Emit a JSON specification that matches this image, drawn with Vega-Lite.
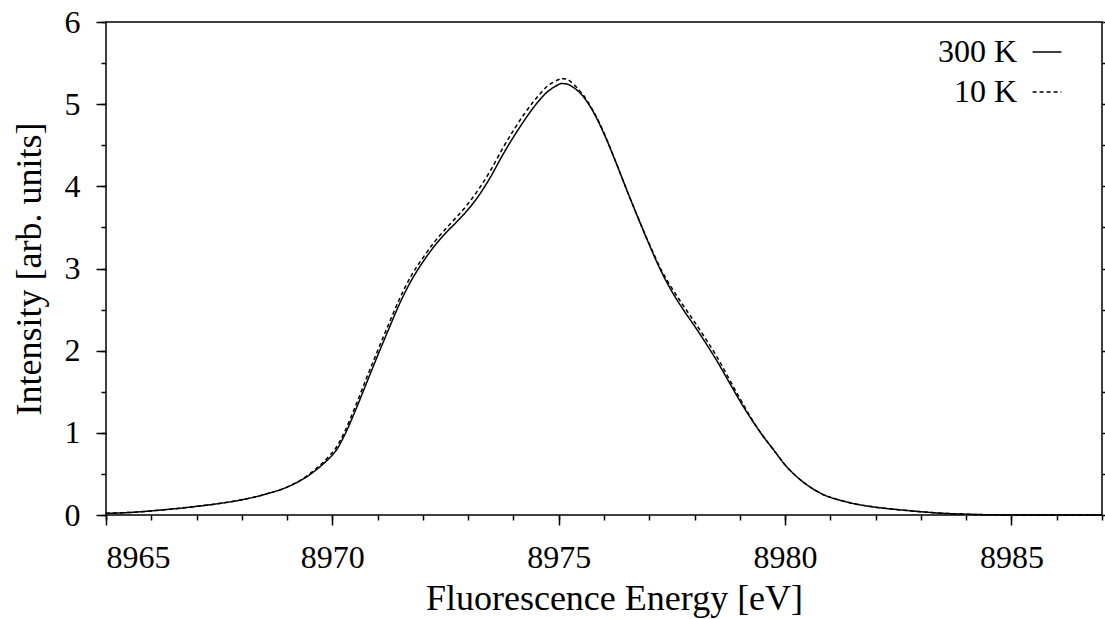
{
  "$schema": "https://vega.github.io/schema/vega-lite/v6.json",
  "width": 996,
  "height": 493,
  "autosize": {"type": "none"},
  "padding": {"left": 106, "top": 22, "right": 3, "bottom": 104},
  "background": "white",
  "config": {
    "view": {"stroke": "black", "strokeWidth": 1.5},
    "font": "Liberation Serif",
    "axis": {"labelFont": "Liberation Serif", "titleFont": "Liberation Serif", "labelFontSize": 32, "titleFontSize": 36, "titleFontWeight": "normal", "labelColor": "black", "titleColor": "black", "tickColor": "black", "tickWidth": 1.5, "domain": false, "grid": false},
    "legend": {"labelFont": "Liberation Serif"}
  },
  "datasets": {
    "spec": [
      {"E": 8965.0, "I": 0.02, "T": "300 K"}, {"E": 8965.5, "I": 0.03, "T": "300 K"}, {"E": 8966.0, "I": 0.05, "T": "300 K"}, {"E": 8966.5, "I": 0.075, "T": "300 K"}, {"E": 8967.0, "I": 0.105, "T": "300 K"}, {"E": 8967.5, "I": 0.14, "T": "300 K"}, {"E": 8968.0, "I": 0.185, "T": "300 K"}, {"E": 8968.5, "I": 0.25, "T": "300 K"}, {"E": 8969.0, "I": 0.34, "T": "300 K"}, {"E": 8969.5, "I": 0.49, "T": "300 K"}, {"E": 8970.0, "I": 0.73, "T": "300 K"}, {"E": 8970.25, "I": 0.95, "T": "300 K"}, {"E": 8970.5, "I": 1.26, "T": "300 K"}, {"E": 8970.75, "I": 1.60, "T": "300 K"}, {"E": 8971.0, "I": 1.94, "T": "300 K"}, {"E": 8971.25, "I": 2.27, "T": "300 K"}, {"E": 8971.5, "I": 2.59, "T": "300 K"}, {"E": 8971.75, "I": 2.86, "T": "300 K"}, {"E": 8972.0, "I": 3.08, "T": "300 K"}, {"E": 8972.25, "I": 3.27, "T": "300 K"}, {"E": 8972.5, "I": 3.43, "T": "300 K"}, {"E": 8972.75, "I": 3.57, "T": "300 K"}, {"E": 8973.0, "I": 3.72, "T": "300 K"}, {"E": 8973.25, "I": 3.90, "T": "300 K"}, {"E": 8973.5, "I": 4.12, "T": "300 K"}, {"E": 8973.75, "I": 4.37, "T": "300 K"}, {"E": 8974.0, "I": 4.60, "T": "300 K"}, {"E": 8974.25, "I": 4.81, "T": "300 K"}, {"E": 8974.5, "I": 5.00, "T": "300 K"}, {"E": 8974.75, "I": 5.15, "T": "300 K"}, {"E": 8975.0, "I": 5.24, "T": "300 K"}, {"E": 8975.1, "I": 5.25, "T": "300 K"}, {"E": 8975.25, "I": 5.23, "T": "300 K"}, {"E": 8975.5, "I": 5.12, "T": "300 K"}, {"E": 8975.75, "I": 4.92, "T": "300 K"}, {"E": 8976.0, "I": 4.64, "T": "300 K"}, {"E": 8976.25, "I": 4.31, "T": "300 K"}, {"E": 8976.5, "I": 3.96, "T": "300 K"}, {"E": 8976.75, "I": 3.62, "T": "300 K"}, {"E": 8977.0, "I": 3.29, "T": "300 K"}, {"E": 8977.25, "I": 2.98, "T": "300 K"}, {"E": 8977.5, "I": 2.72, "T": "300 K"}, {"E": 8977.75, "I": 2.50, "T": "300 K"}, {"E": 8978.0, "I": 2.30, "T": "300 K"}, {"E": 8978.25, "I": 2.09, "T": "300 K"}, {"E": 8978.5, "I": 1.87, "T": "300 K"}, {"E": 8978.75, "I": 1.63, "T": "300 K"}, {"E": 8979.0, "I": 1.39, "T": "300 K"}, {"E": 8979.25, "I": 1.17, "T": "300 K"}, {"E": 8979.5, "I": 0.97, "T": "300 K"}, {"E": 8979.75, "I": 0.79, "T": "300 K"}, {"E": 8980.0, "I": 0.61, "T": "300 K"}, {"E": 8980.25, "I": 0.47, "T": "300 K"}, {"E": 8980.5, "I": 0.36, "T": "300 K"}, {"E": 8980.75, "I": 0.275, "T": "300 K"}, {"E": 8981.0, "I": 0.215, "T": "300 K"}, {"E": 8981.5, "I": 0.14, "T": "300 K"}, {"E": 8982.0, "I": 0.095, "T": "300 K"}, {"E": 8982.5, "I": 0.065, "T": "300 K"}, {"E": 8983.0, "I": 0.04, "T": "300 K"}, {"E": 8983.5, "I": 0.02, "T": "300 K"}, {"E": 8984.0, "I": 0.01, "T": "300 K"}, {"E": 8984.5, "I": 0.003, "T": "300 K"}, {"E": 8985.0, "I": 0.0, "T": "300 K"}, {"E": 8986.0, "I": 0.0, "T": "300 K"}, {"E": 8987.0, "I": 0.0, "T": "300 K"},
      {"E": 8965.0, "I": 0.02, "T": "10 K"}, {"E": 8965.5, "I": 0.03, "T": "10 K"}, {"E": 8966.0, "I": 0.05, "T": "10 K"}, {"E": 8966.5, "I": 0.075, "T": "10 K"}, {"E": 8967.0, "I": 0.105, "T": "10 K"}, {"E": 8967.5, "I": 0.14, "T": "10 K"}, {"E": 8968.0, "I": 0.185, "T": "10 K"}, {"E": 8968.5, "I": 0.25, "T": "10 K"}, {"E": 8969.0, "I": 0.34, "T": "10 K"}, {"E": 8969.5, "I": 0.50, "T": "10 K"}, {"E": 8970.0, "I": 0.76, "T": "10 K"}, {"E": 8970.25, "I": 0.99, "T": "10 K"}, {"E": 8970.5, "I": 1.31, "T": "10 K"}, {"E": 8970.75, "I": 1.66, "T": "10 K"}, {"E": 8971.0, "I": 2.00, "T": "10 K"}, {"E": 8971.25, "I": 2.33, "T": "10 K"}, {"E": 8971.5, "I": 2.65, "T": "10 K"}, {"E": 8971.75, "I": 2.92, "T": "10 K"}, {"E": 8972.0, "I": 3.13, "T": "10 K"}, {"E": 8972.25, "I": 3.32, "T": "10 K"}, {"E": 8972.5, "I": 3.48, "T": "10 K"}, {"E": 8972.75, "I": 3.63, "T": "10 K"}, {"E": 8973.0, "I": 3.79, "T": "10 K"}, {"E": 8973.25, "I": 3.98, "T": "10 K"}, {"E": 8973.5, "I": 4.20, "T": "10 K"}, {"E": 8973.75, "I": 4.45, "T": "10 K"}, {"E": 8974.0, "I": 4.68, "T": "10 K"}, {"E": 8974.25, "I": 4.89, "T": "10 K"}, {"E": 8974.5, "I": 5.07, "T": "10 K"}, {"E": 8974.75, "I": 5.22, "T": "10 K"}, {"E": 8975.0, "I": 5.30, "T": "10 K"}, {"E": 8975.1, "I": 5.31, "T": "10 K"}, {"E": 8975.25, "I": 5.28, "T": "10 K"}, {"E": 8975.5, "I": 5.14, "T": "10 K"}, {"E": 8975.75, "I": 4.93, "T": "10 K"}, {"E": 8976.0, "I": 4.65, "T": "10 K"}, {"E": 8976.25, "I": 4.31, "T": "10 K"}, {"E": 8976.5, "I": 3.96, "T": "10 K"}, {"E": 8976.75, "I": 3.62, "T": "10 K"}, {"E": 8977.0, "I": 3.30, "T": "10 K"}, {"E": 8977.25, "I": 3.00, "T": "10 K"}, {"E": 8977.5, "I": 2.76, "T": "10 K"}, {"E": 8977.75, "I": 2.55, "T": "10 K"}, {"E": 8978.0, "I": 2.35, "T": "10 K"}, {"E": 8978.25, "I": 2.14, "T": "10 K"}, {"E": 8978.5, "I": 1.92, "T": "10 K"}, {"E": 8978.75, "I": 1.67, "T": "10 K"}, {"E": 8979.0, "I": 1.42, "T": "10 K"}, {"E": 8979.25, "I": 1.18, "T": "10 K"}, {"E": 8979.5, "I": 0.97, "T": "10 K"}, {"E": 8979.75, "I": 0.79, "T": "10 K"}, {"E": 8980.0, "I": 0.61, "T": "10 K"}, {"E": 8980.25, "I": 0.47, "T": "10 K"}, {"E": 8980.5, "I": 0.36, "T": "10 K"}, {"E": 8980.75, "I": 0.275, "T": "10 K"}, {"E": 8981.0, "I": 0.215, "T": "10 K"}, {"E": 8981.5, "I": 0.14, "T": "10 K"}, {"E": 8982.0, "I": 0.095, "T": "10 K"}, {"E": 8982.5, "I": 0.065, "T": "10 K"}, {"E": 8983.0, "I": 0.04, "T": "10 K"}, {"E": 8983.5, "I": 0.02, "T": "10 K"}, {"E": 8984.0, "I": 0.01, "T": "10 K"}, {"E": 8984.5, "I": 0.003, "T": "10 K"}, {"E": 8985.0, "I": 0.0, "T": "10 K"}, {"E": 8986.0, "I": 0.0, "T": "10 K"}, {"E": 8987.0, "I": 0.0, "T": "10 K"}
    ]
  },
  "data": {"name": "spec"},
  "resolve": {"axis": {"x": "independent", "y": "independent"}},
  "layer": [
    {
      "mark": {"type": "line", "color": "black", "strokeWidth": 1.5, "interpolate": "cardinal"},
      "encoding": {
        "x": {"field": "E", "type": "quantitative", "scale": {"domain": [8965, 8987], "nice": false, "zero": false},
              "axis": {"orient": "bottom", "values": [8965, 8970, 8975, 8980, 8985], "tickSize": 10, "labelPadding": 17, "title": "Fluorescence Energy [eV]", "titlePadding": 8, "titleX": 508, "format": "d"}},
        "y": {"field": "I", "type": "quantitative", "scale": {"domain": [0, 6], "nice": false},
              "axis": {"orient": "left", "values": [0, 1, 2, 3, 4, 5, 6], "tickSize": 10, "labelPadding": 16, "title": "Intensity [arb. units]", "titlePadding": 16}},
        "strokeDash": {"field": "T", "type": "nominal",
                       "scale": {"domain": ["300 K", "10 K"], "range": [[1, 0], [4, 3]]},
                       "legend": {"orient": "none", "legendX": 925, "legendY": 14, "title": null, "labelFontSize": 32, "labelAlign": "right", "labelOffset": -46, "symbolType": "stroke", "symbolSize": 830, "symbolStrokeWidth": 1.5, "symbolStrokeColor": "black", "rowPadding": 8, "labelColor": "black"}}
      }
    },
    {
      "mark": {"type": "point", "opacity": 0},
      "encoding": {
        "x": {"field": "E", "type": "quantitative", "scale": {"domain": [8965, 8987], "nice": false, "zero": false},
              "axis": {"orient": "bottom", "values": [8965, 8966, 8967, 8968, 8969, 8970, 8971, 8972, 8973, 8974, 8975, 8976, 8977, 8978, 8979, 8980, 8981, 8982, 8983, 8984, 8985, 8986, 8987], "tickSize": 5, "labels": false, "title": null}},
        "y": {"field": "I", "type": "quantitative", "scale": {"domain": [0, 6], "nice": false},
              "axis": {"orient": "left", "values": [0, 0.5, 1, 1.5, 2, 2.5, 3, 3.5, 4, 4.5, 5, 5.5, 6], "tickSize": 5, "labels": false, "title": null}}
      }
    },
    {
      "mark": {"type": "point", "opacity": 0},
      "encoding": {
        "x": {"field": "E", "type": "quantitative", "scale": {"domain": [8965, 8987], "nice": false, "zero": false}, "axis": null},
        "y": {"field": "I", "type": "quantitative", "scale": {"domain": [0, 6], "nice": false},
              "axis": {"orient": "right", "values": [0, 0.5, 1, 1.5, 2, 2.5, 3, 3.5, 4, 4.5, 5, 5.5, 6], "tickSize": 10, "labels": false, "title": null}}
      }
    }
  ]
}
